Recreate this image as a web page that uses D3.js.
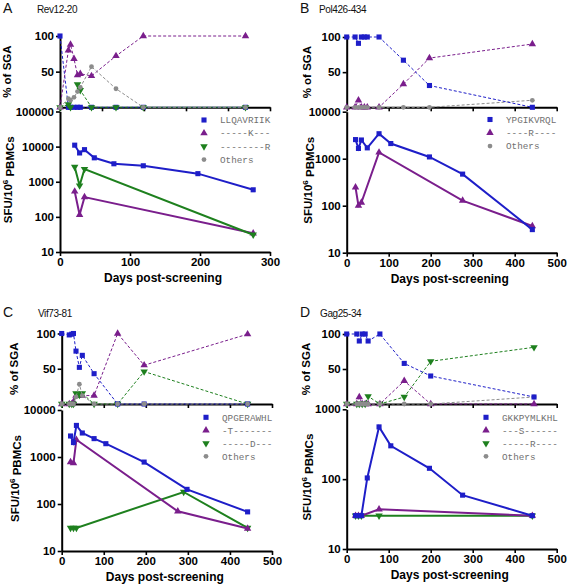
<!DOCTYPE html>
<html><head><meta charset="utf-8">
<script src="https://cdn.jsdelivr.net/npm/d3@7"></script>
<style>body{margin:0;background:#fff;} svg{display:block;}</style>
</head><body>
<svg id="chart" width="567" height="585"></svg>
<script>
// ---------- DATA ----------
// Panel A: Rev12-20
const aTopDays   = [0, 12, 15, 20, 25, 29, 45, 80, 119, 265];
const aTopBlue   = [100, 0, 0, 0, 0, 0, 0, 0, 0, 0];
const aTopPurple = [0, 80, 88, 68, 45, 47, 44, 72, 100, 100];
const aTopGreen  = [0, 4, 0, null, 32, 24, 0, 0, 0, 0];
const aTopGray   = [0, 12, 10, 14, 22, 28, 57, 26, 0, 0];
const aBotDays   = [21, 28, 35, 49, 77, 119, 197, 276];
const aBotBlue   = [11000, 6600, 8200, 4800, 3250, 2850, 1700, 590];
const aBotPurple = [530, 115, 365, null, null, null, null, 34];
const aBotGreen  = [2650, 780, 2300, null, null, null, null, 31];
const aLegend    = ["LLQAVRIIK", "-----K---", "--------R", "Others"];

// Panel B: Pol426-434
const bTopDays   = [0, 20, 28, 35, 42, 49, 77, 135, 197, 442];
const bTopBlue   = [100, 100, 91, 100, 100, 100, 100, 67, 31, 0];
const bTopPurple = [0, 0, 10, 0, 0, 0, 0, 33, 70, 90];
const bTopGray   = [0, 0, 0, 0, 0, 0, 0, 0, 0, 10];
const bBotDays   = [21, 28, 35, 49, 77, 105, 197, 276, 442];
const bBotBlue   = [2550, 1650, 2500, 1700, 3400, 2100, 1090, 470, 31];
const bBotPurple = [245, 100, 117, null, 1360, null, null, 128, 37];
const bLegend    = ["YPGIKVRQL", "----R----", "Others"];

// Panel C: Vif73-81
const cTopDays   = [0, 18, 24, 28, 34, 42, 49, 77, 133, 196, 442];
const cTopBlue   = [100, 98, 99, 100, 75, 52, 69, 43, 0, 0, 0];
const cTopPurple = [0, 0, 0, 3, 12, 12, 12, 12, 100, 55, 99];
const cTopGreen  = [0, 0, 0, 0, 15, 13, 15, 0, 0, 46, 0];
const cTopGray   = [0, 0, 0, 0, 10, 28, 12, 0, 0, 0, 0];
const cBotDays   = [21, 28, 35, 49, 77, 105, 196, 276, 290, 298, 442];
const cBotBlue   = [2800, 2030, 4700, 3240, 2460, 1920, 780, null, null, 205, 68];
const cBotPurple = [780, 740, 2330, null, null, null, null, 70, null, null, 30];
const cBotGreen  = [31, 31, 31, null, null, null, null, null, 180, null, 31];
const cLegend    = ["QPGERAWHL", "-T-------", "-----D---", "Others"];

// Panel D: Gag25-34
const dTopDays   = [0, 24, 30, 37, 44, 51, 79, 137, 200, 446];
const dTopBlue   = [100, 100, 90, 100, 100, 90, 100, 58, 40, 10];
const dTopPurple = [0, 0, 10, 0, 0, 0, 0, 33, 0, 0];
const dTopGreen  = [0, 0, 0, 0, 0, 11, 0, 10, 61, 81];
const dTopGray   = [0, 0, 0, 0, 0, 0, 0, 0, 0, 10];
const dBotDays   = [21, 28, 35, 49, 77, 105, 197, 276, 442];
const dBotBlue   = [30, 30, 30, 104, 560, 300, 143, 59, 30];
const dBotPurple = [30, 30, 30, null, 37, null, null, null, 30];
const dBotGreen  = [30, 30, 30, null, 30, null, null, null, 30];
const dLegend    = ["GKKPYMLKHL", "---S------", "-----R----", "Others"];

// ---------- STYLE ----------
const COL = {blue:"#1e1ec8", purple:"#7a1e8c", green:"#1e801e", gray:"#8c8c8c"};
const SYM = {blue:d3.symbolSquare, purple:d3.symbolTriangle, green:"down", gray:d3.symbolCircle};
const SIZE = {blue:26, purple:24, green:24, gray:18};
const FONT = "'Liberation Sans', Arial, sans-serif";

const svg = d3.select("#chart");

function marker(g, key, x, y) {
  const isDown = SYM[key] === "down";
  const type = isDown ? d3.symbolTriangle : SYM[key];
  g.append("path")
    .attr("d", d3.symbol().type(type).size(SIZE[key])())
    .attr("transform", `translate(${x},${y})` + (isDown ? " rotate(180)" : ""))
    .attr("fill", COL[key]);
}

function styleAxis(sel) {
  sel.select(".domain").attr("stroke", "#000").attr("stroke-width", 2);
  sel.selectAll(".tick line").attr("stroke", "#000").attr("stroke-width", 1.6);
  sel.selectAll(".tick text").attr("fill", "#000")
    .style("font-family", FONT).style("font-weight", "bold").style("font-size", "11.5px");
}

function drawPanel(p) {
  const g = svg.append("g");
  const xTop = d3.scaleLinear().domain(p.topXDomain).range([p.x0, p.x1]);
  const yTop = d3.scaleLinear().domain([0, 100]).range([p.top0, p.top100]);
  const xBot = d3.scaleLinear().domain(p.xDomain).range([p.x0, p.x1]);
  const yBot = d3.scaleLog().domain(p.yDomain).range([p.botBottom, p.botTop]);

  // top axes
  const tx = g.append("g").attr("transform", `translate(0,${p.top0})`)
    .call(d3.axisBottom(xTop).tickValues(p.topXTicks).tickSize(4).tickSizeOuter(0).tickFormat(""));
  styleAxis(tx);
  const ty = g.append("g").attr("transform", `translate(${p.x0},0)`)
    .call(d3.axisLeft(yTop).tickValues([50, 100]).tickSize(4).tickPadding(2).tickSizeOuter(0));
  styleAxis(ty);

  // bottom axes
  const bx = g.append("g").attr("transform", `translate(0,${p.botBottom})`)
    .call(d3.axisBottom(xBot).tickValues(p.xTicks).tickSize(4).tickPadding(2).tickSizeOuter(0));
  styleAxis(bx);
  const by = g.append("g").attr("transform", `translate(${p.x0},0)`)
    .call(d3.axisLeft(yBot).tickValues(p.yTicks).tickFormat(d3.format("d")).tickSize(4).tickPadding(2).tickSizeOuter(0));
  styleAxis(by);

  // top series (dashed)
  p.top.forEach(s => {
    const pts = p.topDays.map((d, i) => [d, s.values[i]]);
    const line = d3.line().defined(d => d[1] != null).x(d => xTop(d[0])).y(d => yTop(d[1]));
    g.append("path").attr("d", line(pts)).attr("fill", "none")
      .attr("stroke", COL[s.key]).attr("stroke-width", 1).attr("stroke-dasharray", "3,2");
    pts.filter(d => d[1] != null).forEach(d => marker(g, s.key, xTop(d[0]), yTop(d[1])));
  });

  // bottom series (solid)
  p.bot.forEach(s => {
    const pts = p.botDays.map((d, i) => [d, s.values[i]]).filter(d => d[1] != null);
    const line = d3.line().x(d => xBot(d[0])).y(d => yBot(d[1]));
    g.append("path").attr("d", line(pts)).attr("fill", "none")
      .attr("stroke", COL[s.key]).attr("stroke-width", 2);
    pts.forEach(d => marker(g, s.key, xBot(d[0]), yBot(d[1])));
  });

  // legend
  p.legend.forEach((t, i) => {
    const y = p.legY + i * p.legStep;
    marker(g, p.legKeys[i], p.legX, y);
    g.append("text").attr("x", p.legX + 16).attr("y", y).attr("dy", "0.35em")
      .attr("fill", "#707070").style("font-family", "'Liberation Mono', 'Courier New', monospace")
      .style("font-size", "9.3px").text(t);
  });

  // labels
  g.append("text").attr("x", p.letterX).attr("y", p.letterY).text(p.letter)
    .style("font-family", FONT).style("font-size", "14px").attr("fill", "#111");
  g.append("text").attr("x", p.titleX).attr("y", p.letterY).text(p.title)
    .style("font-family", FONT).style("font-size", "10px").style("letter-spacing", "-0.4px").attr("fill", "#111");

  g.append("text").attr("transform", `translate(${p.ylabX},${(p.top0 + p.top100) / 2}) rotate(-90)`)
    .attr("text-anchor", "middle").text("% of SGA")
    .style("font-family", FONT).style("font-weight", "bold").style("font-size", "11.5px");
  const sfu = g.append("text").attr("transform", `translate(${p.ylabX + 1},${(p.botTop + p.botBottom) / 2 - 2}) rotate(-90)`)
    .attr("text-anchor", "middle")
    .style("font-family", FONT).style("font-weight", "bold").style("font-size", "11.5px");
  sfu.append("tspan").text("SFU/10");
  sfu.append("tspan").attr("dy", "-0.45em").style("font-size", "8px").text("6");
  sfu.append("tspan").attr("dy", "0.45em").text(" PBMCs");

  g.append("text").attr("x", (p.x0 + p.x1) / 2 - 2).attr("y", p.botBottom + 30)
    .attr("text-anchor", "middle").text("Days post-screening")
    .style("font-family", FONT).style("font-weight", "bold").style("font-size", "12px");
}

drawPanel({
  letter: "A", title: "Rev12-20", letterX: 3, letterY: 13, titleX: 37,
  x0: 60, x1: 270, top100: 36, top0: 107.3, botTop: 111.5, botBottom: 252,
  topXDomain: [0, 300], topXTicks: [0, 60, 120, 180, 240, 300],
  xDomain: [0, 300], xTicks: [0, 100, 200, 300],
  yDomain: [10, 100000], yTicks: [10, 100, 1000, 10000, 100000],
  topDays: aTopDays,
  top: [{key:"blue", values:aTopBlue}, {key:"purple", values:aTopPurple}, {key:"green", values:aTopGreen}, {key:"gray", values:aTopGray}],
  botDays: aBotDays,
  bot: [{key:"purple", values:aBotPurple}, {key:"green", values:aBotGreen}, {key:"blue", values:aBotBlue}],
  legend: aLegend, legKeys: ["blue", "purple", "green", "gray"], legX: 204, legY: 120, legStep: 13.2,
  ylabX: 11
});
drawPanel({
  letter: "B", title: "Pol426-434", letterX: 300, letterY: 13, titleX: 319,
  x0: 346.7, x1: 556.7, top100: 37, top0: 107.3, botTop: 111.7, botBottom: 252.7,
  topXDomain: [0, 500], topXTicks: [0, 100, 200, 300, 400, 500],
  xDomain: [0, 500], xTicks: [0, 100, 200, 300, 400, 500],
  yDomain: [10, 10000], yTicks: [10, 100, 1000, 10000],
  topDays: bTopDays,
  top: [{key:"purple", values:bTopPurple}, {key:"gray", values:bTopGray}, {key:"blue", values:bTopBlue}],
  botDays: bBotDays,
  bot: [{key:"purple", values:bBotPurple}, {key:"blue", values:bBotBlue}],
  legend: bLegend, legKeys: ["blue", "purple", "gray"], legX: 490, legY: 119.5, legStep: 13.3,
  ylabX: 311
});
drawPanel({
  letter: "C", title: "Vif73-81", letterX: 3, letterY: 317, titleX: 38,
  x0: 61.7, x1: 272, top100: 333.5, top0: 404, botTop: 410, botBottom: 551,
  topXDomain: [0, 500], topXTicks: [0, 100, 200, 300, 400, 500],
  xDomain: [0, 500], xTicks: [0, 100, 200, 300, 400, 500],
  yDomain: [10, 10000], yTicks: [10, 100, 1000, 10000],
  topDays: cTopDays,
  top: [{key:"purple", values:cTopPurple}, {key:"green", values:cTopGreen}, {key:"blue", values:cTopBlue}, {key:"gray", values:cTopGray}],
  botDays: cBotDays,
  bot: [{key:"green", values:cBotGreen}, {key:"purple", values:cBotPurple}, {key:"blue", values:cBotBlue}],
  legend: cLegend, legKeys: ["blue", "purple", "green", "gray"], legX: 206, legY: 417.3, legStep: 13,
  ylabX: 18
});
drawPanel({
  letter: "D", title: "Gag25-34", letterX: 300, letterY: 317, titleX: 320,
  x0: 346.7, x1: 556.7, top100: 334, top0: 404, botTop: 409.3, botBottom: 549,
  topXDomain: [0, 500], topXTicks: [0, 100, 200, 300, 400, 500],
  xDomain: [0, 500], xTicks: [0, 100, 200, 300, 400, 500],
  yDomain: [10, 1000], yTicks: [10, 100, 1000],
  topDays: dTopDays,
  top: [{key:"purple", values:dTopPurple}, {key:"green", values:dTopGreen}, {key:"gray", values:dTopGray}, {key:"blue", values:dTopBlue}],
  botDays: dBotDays,
  bot: [{key:"green", values:dBotGreen}, {key:"purple", values:dBotPurple}, {key:"blue", values:dBotBlue}],
  legend: dLegend, legKeys: ["blue", "purple", "green", "gray"], legX: 486, legY: 417.3, legStep: 13,
  ylabX: 310
});
</script>
</body></html>
